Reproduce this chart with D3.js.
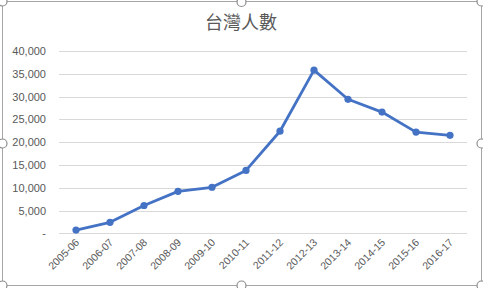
<!DOCTYPE html>
<html>
<head>
<meta charset="utf-8">
<script src="https://cdn.jsdelivr.net/npm/d3@7"></script>
<style>
  body { margin: 0; background: #fff; }
  svg { display: block; font-family: "Liberation Sans", "DejaVu Sans", sans-serif; }
</style>
</head>
<body>
<svg id="chart" width="483" height="288"></svg>
<script>
var title = "台灣人數";
var years = ["2005-06", "2006-07", "2007-08", "2008-09", "2009-10", "2010-11",
  "2011-12", "2012-13", "2013-14", "2014-15", "2015-16", "2016-17"];
var people = [700, 2400, 6100, 9200, 10100, 13800, 22400, 35800, 29400, 26600, 22200, 21500];
var yTicks = [0, 5000, 10000, 15000, 20000, 25000, 30000, 35000, 40000];

var svg = d3.select("#chart");
var grey = "#595959";

// plot area
var plotL = 59, plotR = 467, plotT = 51, plotB = 233.3;

var x = d3.scaleBand().domain(years).range([plotL, plotR]);
var y = d3.scaleLinear().domain([0, 40000]).range([plotB, plotT]);

// gridlines
svg.append("g").selectAll("line")
  .data(yTicks)
  .enter().append("line")
  .attr("x1", plotL).attr("x2", plotR)
  .attr("y1", function(d) { return Math.round(y(d)) + 0.5; })
  .attr("y2", function(d) { return Math.round(y(d)) + 0.5; })
  .style("stroke", "#d9d9d9")
  .style("stroke-width", 1);

// y axis labels
var fmt = d3.format(",");
svg.append("g").selectAll("text")
  .data(yTicks)
  .enter().append("text")
  .attr("x", 46)
  .attr("y", function(d) { return y(d) + 4; })
  .attr("text-anchor", "end")
  .style("font-size", "11px")
  .style("fill", grey)
  .text(function(d) { return d === 0 ? "-" : fmt(d); });

// x axis labels (rotated)
svg.append("g").selectAll("text")
  .data(years)
  .enter().append("text")
  .attr("transform", function(d) {
    return "translate(" + (x(d) + x.bandwidth() / 2 + 4) + ",243) rotate(-45)";
  })
  .attr("text-anchor", "end")
  .style("font-size", "10.5px")
  .style("fill", grey)
  .text(function(d) { return d; });

// line
var line = d3.line()
  .x(function(d, i) { return x(years[i]) + x.bandwidth() / 2; })
  .y(function(d) { return y(d); });

svg.append("path")
  .datum(people)
  .attr("d", line)
  .style("fill", "none")
  .style("stroke", "#4472c4")
  .style("stroke-width", 2.8)
  .style("stroke-linejoin", "round");

svg.append("g").selectAll("circle")
  .data(people)
  .enter().append("circle")
  .attr("cx", function(d, i) { return x(years[i]) + x.bandwidth() / 2; })
  .attr("cy", function(d) { return y(d); })
  .attr("r", 3.6)
  .style("fill", "#4472c4");

// title
svg.append("text")
  .attr("x", 241)
  .attr("y", 29)
  .attr("text-anchor", "middle")
  .style("font-family", "'Noto Sans CJK TC', sans-serif")
  .style("font-size", "18px")
  .style("fill", grey)
  .text(title);

// selected chart frame with handles
svg.append("rect")
  .attr("x", 2.5).attr("y", 1.5)
  .attr("width", 479).attr("height", 284)
  .style("fill", "none")
  .style("stroke", "#a6a6a6")
  .style("stroke-width", 1);

var handles = [[2.5, 1.5], [241.5, 2], [481.5, 1.5], [2.5, 143.5], [481.5, 143.5],
  [2.5, 285.5], [241.5, 285.5], [481.5, 285.5]];
svg.append("g").selectAll("circle")
  .data(handles)
  .enter().append("circle")
  .attr("cx", function(d) { return d[0]; })
  .attr("cy", function(d) { return d[1]; })
  .attr("r", 4.5)
  .style("fill", "#fff")
  .style("stroke", "#8c8c8c")
  .style("stroke-width", 1.2);
</script>
</body>
</html>
